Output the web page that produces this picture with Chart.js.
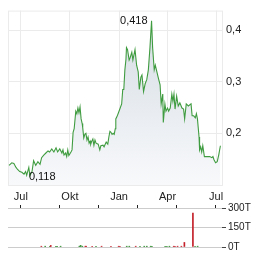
<!DOCTYPE html>
<html>
<head>
<meta charset="utf-8">
<script src="https://cdn.jsdelivr.net/npm/chart.js@4"></script>
<style>
  html, body { margin: 0; padding: 0; background: #fff; }
  #wrap { position: relative; width: 264px; height: 255px; overflow: hidden; }
  #priceChart { position: absolute; left: 0; top: 0; }
  #volChart { position: absolute; left: 0; top: 200px; }
</style>
</head>
<body>
<div id="wrap">
  <canvas id="priceChart" width="264" height="205"></canvas>
  <canvas id="volChart" width="264" height="55"></canvas>
</div>
<script>
// days counted from 1 Jul 2023
const monthTicks = [0, 92, 184, 275, 366];
const monthLabels = ["Jul", "Okt", "Jan", "Apr", "Jul"];
const priceTicks = [0.2, 0.3, 0.4];
const volTicks = [0, 150, 300];
const volTickLabels = ["0T", "150T", "300T"];

const days = [
  -22, -17, -13, -9, -6, -2, 2, 6, 9, 11, 15, 17, 21, 24, 28, 32, 36, 39, 43, 47,
  51, 54, 58, 62, 66, 69, 73, 77, 79, 81, 84, 86, 88, 90, 94, 96, 98, 100, 103, 105,
  107, 109, 111, 113, 115, 116, 118, 120, 122, 124, 126, 128, 130, 131, 133, 135, 137, 139, 141, 145,
  148, 150, 154, 156, 160, 163, 165, 167, 169, 171, 173, 175, 177, 178, 180, 183, 189, 191, 193, 195,
  197, 198, 200, 203, 205, 208, 210, 214, 217, 220, 222, 225, 227, 230, 233, 236, 239, 242, 245, 247,
  250, 252, 255, 258, 261, 263, 266, 267, 270, 272, 275, 277, 280, 283, 285, 287, 289, 292, 295, 298,
  302, 305, 307, 310, 314, 319, 321, 324, 327, 329, 331, 334, 335, 337, 339, 341, 344, 349, 354, 358,
  360, 362, 365, 368, 371, 374
];
const prices = [
  0.138, 0.143, 0.1415, 0.134, 0.130, 0.126, 0.1245, 0.121, 0.126, 0.119, 0.134, 0.118, 0.126, 0.147, 0.138, 0.145, 0.140, 0.153, 0.158, 0.162,
  0.166, 0.164, 0.170, 0.164, 0.172, 0.164, 0.170, 0.162, 0.168, 0.158, 0.162, 0.155, 0.168, 0.157, 0.164, 0.168, 0.202, 0.209, 0.243, 0.238,
  0.249, 0.240, 0.251, 0.228, 0.219, 0.211, 0.191, 0.198, 0.200, 0.187, 0.193, 0.181, 0.185, 0.179, 0.185, 0.189, 0.177, 0.187, 0.181, 0.179,
  0.168, 0.176, 0.177, 0.174, 0.183, 0.179, 0.193, 0.204, 0.202, 0.198, 0.200, 0.198, 0.209, 0.228, 0.232, 0.240, 0.257, 0.285, 0.285, 0.323,
  0.343, 0.366, 0.362, 0.342, 0.347, 0.357, 0.342, 0.362, 0.332, 0.319, 0.285, 0.309, 0.313, 0.281, 0.296, 0.304, 0.323, 0.366, 0.418, 0.366,
  0.323, 0.332, 0.319, 0.306, 0.294, 0.257, 0.276, 0.221, 0.257, 0.243, 0.249, 0.243, 0.249, 0.276, 0.262, 0.276, 0.247, 0.272, 0.253, 0.259,
  0.249, 0.247, 0.228, 0.257, 0.253, 0.257, 0.234, 0.234, 0.230, 0.238, 0.228, 0.193, 0.168, 0.174, 0.164, 0.176, 0.155, 0.155, 0.155, 0.153,
  0.155, 0.149, 0.143, 0.145, 0.159, 0.176
];

const volDays = [
  4, 13, 24, 26, 38, 41, 49, 93, 96, 100, 107, 109, 123, 132, 145, 167, 185, 188, 204, 210,
  225, 235, 245, 251, 260, 263, 294, 298, 304, 314, 317, 323, 332, 339, 359, 364, 370
];
const volumes = [
  6, 6, 6, 12, 6, 6, 6, 6, 12, 6, 6, 6, 6, 6, 6, 6, 6, 6, 6, 6,
  6, 6, 6, 6, 6, 6, 6, 6, 6, 6, 6, 6, 6, 35, 260, 6, 6
];
// 1 = up day (green), -1 = down day (red)
const volDir = [
  -1, 1, 1, -1, 1, 1, 1, 1, 1, 1, -1, -1, -1, 1, -1, -1, -1, -1, 1, 1,
  -1, 1, 1, 1, 1, 1, 1, 1, 1, -1, -1, -1, -1, -1, -1, 1, 1
];

const X_MIN = -24, X_MAX = 377;
const GRID = "#ebebeb";
const fmt = (v) => String(v).replace(".", ",");

Chart.defaults.font.family = "Arial, 'Liberation Sans', sans-serif";
Chart.defaults.font.size = 11;
Chart.defaults.color = "#222";

const frame = {
  id: "frame",
  beforeDatasetsDraw(chart) {
    const a = chart.chartArea, ctx = chart.ctx;
    ctx.save();
    ctx.strokeStyle = GRID;
    ctx.lineWidth = 1;
    ctx.strokeRect(a.left + 0.5, a.top + 0.5, a.right - a.left, a.bottom - a.top);
    ctx.restore();
  }
};

const extremes = {
  id: "extremes",
  afterDatasetsDraw(chart) {
    const ctx = chart.ctx, xs = chart.scales.x, ys = chart.scales.y;
    const hi = prices.indexOf(Math.max(...prices));
    const lo = prices.indexOf(Math.min(...prices));
    ctx.save();
    ctx.font = "11px Arial, 'Liberation Sans', sans-serif";
    ctx.fillStyle = "#111";
    ctx.textBaseline = "middle";
    ctx.textAlign = "right";
    ctx.fillText(fmt(prices[hi]), xs.getPixelForValue(days[hi]) - 4, ys.getPixelForValue(prices[hi]));
    ctx.textAlign = "left";
    ctx.fillText(fmt(prices[lo]), xs.getPixelForValue(days[lo]) - 1, ys.getPixelForValue(prices[lo]) + 1);
    ctx.restore();
  }
};

new Chart(document.getElementById("priceChart"), {
  type: "line",
  data: {
    datasets: [{
      data: days.map((d, i) => ({ x: d, y: prices[i] })),
      borderColor: "#409c40",
      borderWidth: 1.1,
      pointRadius: 0,
      tension: 0,
      fill: "start",
      backgroundColor: (c) => {
        const a = c.chart.chartArea;
        if (!a) return "#e4e9ee";
        const g = c.chart.ctx.createLinearGradient(0, a.top, 0, a.bottom);
        g.addColorStop(0, "#d3dbe3");
        g.addColorStop(1, "#f8f9fb");
        return g;
      }
    }]
  },
  options: {
    responsive: false,
    animation: false,
    layout: { padding: { top: 7, left: 8, right: 0, bottom: 0 } },
    plugins: { legend: { display: false }, tooltip: { enabled: false } },
    scales: {
      x: {
        type: "linear",
        min: X_MIN,
        max: X_MAX,
        afterBuildTicks: (s) => { s.ticks = monthTicks.map(v => ({ value: v })); },
        afterFit: (s) => { s.height = 20; },
        grid: { color: GRID, drawTicks: false },
        border: { display: false },
        ticks: {
          padding: 5,
          maxRotation: 0,
          autoSkip: false,
          callback: (v) => monthLabels[monthTicks.indexOf(v)]
        }
      },
      y: {
        position: "right",
        min: 0.1,
        max: 0.4377,
        afterBuildTicks: (s) => { s.ticks = priceTicks.map(v => ({ value: v })); },
        afterFit: (s) => { s.width = 42; },
        grid: { color: GRID, drawTicks: false },
        border: { display: false },
        ticks: { padding: 4, callback: (v) => fmt(v) }
      }
    }
  },
  plugins: [frame, extremes]
});

new Chart(document.getElementById("volChart"), {
  type: "bar",
  data: {
    datasets: [{
      data: volDays.map((d, i) => ({ x: d, y: volumes[i] })),
      backgroundColor: volDir.map(d => d > 0 ? "#2a8a2a" : "#c4202a"),
      barThickness: 1,
      grouped: false
    }]
  },
  options: {
    responsive: false,
    animation: false,
    layout: { padding: { top: 4, left: 8, right: 0, bottom: 8 } },
    plugins: { legend: { display: false }, tooltip: { enabled: false } },
    scales: {
      x: {
        type: "linear",
        position: "top",
        min: X_MIN,
        max: X_MAX,
        afterBuildTicks: (s) => { s.ticks = monthTicks.map(v => ({ value: v })); },
        afterFit: (s) => { s.height = 3; },
        grid: { drawOnChartArea: false, drawTicks: true, tickLength: 3, tickColor: "#222" },
        border: { display: false },
        ticks: { display: false }
      },
      y: {
        position: "right",
        min: 0,
        max: 300,
        afterBuildTicks: (s) => { s.ticks = volTicks.map(v => ({ value: v })); },
        afterFit: (s) => { s.width = 42; },
        grid: { color: "#cccccc", drawTicks: true, tickLength: 4, tickColor: "#444" },
        border: { display: false },
        ticks: {
          padding: 2,
          font: { size: 10 },
          callback: (v) => volTickLabels[volTicks.indexOf(v)]
        }
      }
    }
  }
});
</script>
</body>
</html>
